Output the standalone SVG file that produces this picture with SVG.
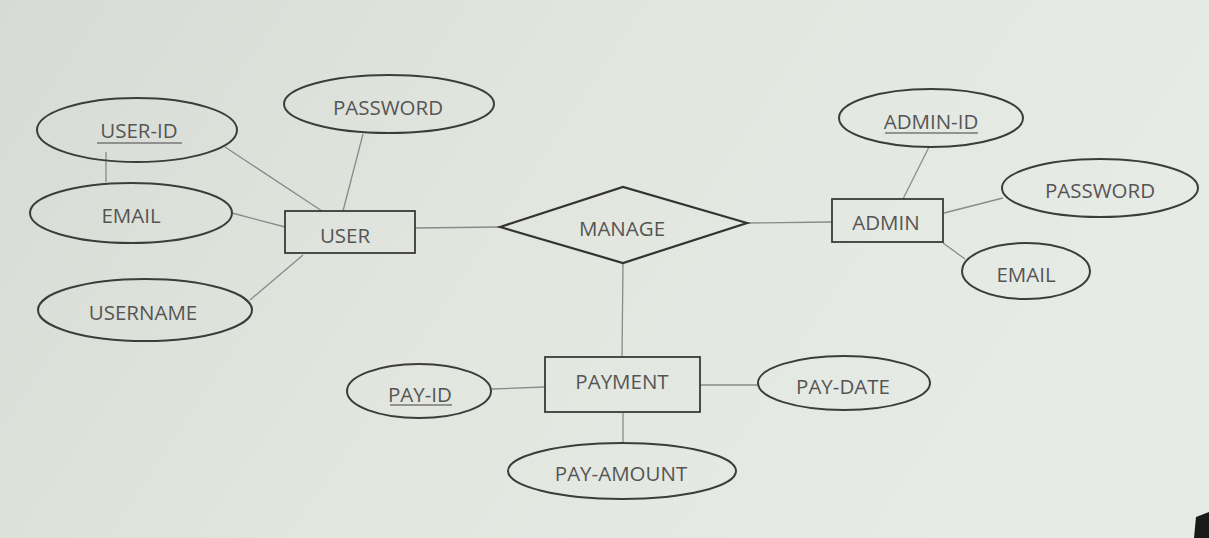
<svg xmlns="http://www.w3.org/2000/svg" width="1209" height="538" viewBox="0 0 1209 538">
<defs>
<linearGradient id="bg" x1="0" y1="0" x2="1" y2="0.3">
<stop offset="0" stop-color="#d7dbd5"/>
<stop offset="0.5" stop-color="#e2e6df"/>
<stop offset="1" stop-color="#e7ebe6"/>
</linearGradient>
<style>
.attr{fill:none;stroke:#3c3c3c;stroke-width:2}
.ent{fill:none;stroke:#3a3a3a;stroke-width:1.8}
.rel{fill:none;stroke:#333;stroke-width:2.2}
.conn line{stroke:#8a8a8a;stroke-width:1.3}
text{font-family:"Open Sans","Noto Sans","Liberation Sans",sans-serif;font-size:20.5px;fill:#555;text-anchor:middle;dominant-baseline:central}
.ul{stroke:#777;stroke-width:1.3}
</style>
</defs>
<rect width="1209" height="538" fill="url(#bg)"/>
<polygon points="1196,517 1209,512 1209,538 1194,538" fill="#1a1a1a"/>
<g class="conn" id="connectors">
<line x1="225" y1="147" x2="322" y2="211"/>
<line x1="106" y1="152" x2="106" y2="182"/>
<line x1="363" y1="134" x2="343" y2="211"/>
<line x1="232" y1="213" x2="285" y2="227"/>
<line x1="250" y1="300" x2="303" y2="255"/>
<line x1="415" y1="228" x2="500" y2="227"/>
<line x1="747" y1="223" x2="832" y2="222"/>
<line x1="929" y1="147" x2="903" y2="199"/>
<line x1="1003" y1="198" x2="944" y2="213"/>
<line x1="965" y1="259" x2="943" y2="243"/>
<line x1="623" y1="263" x2="622" y2="357"/>
<line x1="492" y1="389" x2="545" y2="387"/>
<line x1="700" y1="385" x2="758" y2="385"/>
<line x1="623" y1="413" x2="623" y2="443"/>
</g>
<g id="user"><rect class="ent" x="285" y="211" width="130" height="42"/><text x="345" y="235">USER</text></g>
<g id="user-id"><ellipse class="attr" cx="137" cy="130" rx="100" ry="32"/><text x="139" y="130">USER-ID</text><line class="ul" x1="97" y1="143" x2="182" y2="143"/></g>
<g id="user-password"><ellipse class="attr" cx="389" cy="104" rx="105" ry="29"/><text x="388" y="107">PASSWORD</text></g>
<g id="user-email"><ellipse class="attr" cx="131" cy="213" rx="101" ry="30"/><text x="131" y="215">EMAIL</text></g>
<g id="username"><ellipse class="attr" cx="145" cy="310" rx="107" ry="31"/><text x="143" y="312">USERNAME</text></g>
<g id="manage"><polygon class="rel" points="500,227 623,187 747,223 623,263"/><text x="622" y="228">MANAGE</text></g>
<g id="admin"><rect class="ent" x="832" y="199" width="111" height="43"/><text x="886" y="222">ADMIN</text></g>
<g id="admin-id"><ellipse class="attr" cx="931" cy="118" rx="92" ry="29"/><text x="931" y="121">ADMIN-ID</text><line class="ul" x1="885" y1="133" x2="978" y2="133"/></g>
<g id="admin-password"><ellipse class="attr" cx="1100" cy="188" rx="98" ry="29"/><text x="1100" y="190">PASSWORD</text></g>
<g id="admin-email"><ellipse class="attr" cx="1026" cy="271" rx="64" ry="28"/><text x="1026" y="274">EMAIL</text></g>
<g id="payment"><rect class="ent" x="545" y="357" width="155" height="55"/><text x="622" y="381">PAYMENT</text></g>
<g id="pay-id"><ellipse class="attr" cx="419" cy="391" rx="72" ry="27"/><text x="420" y="394">PAY-ID</text><line class="ul" x1="390" y1="405" x2="452" y2="405"/></g>
<g id="pay-date"><ellipse class="attr" cx="844" cy="383" rx="86" ry="27"/><text x="843" y="386">PAY-DATE</text></g>
<g id="pay-amount"><ellipse class="attr" cx="622" cy="471" rx="114" ry="28"/><text x="621" y="473">PAY-AMOUNT</text></g>
</svg>
